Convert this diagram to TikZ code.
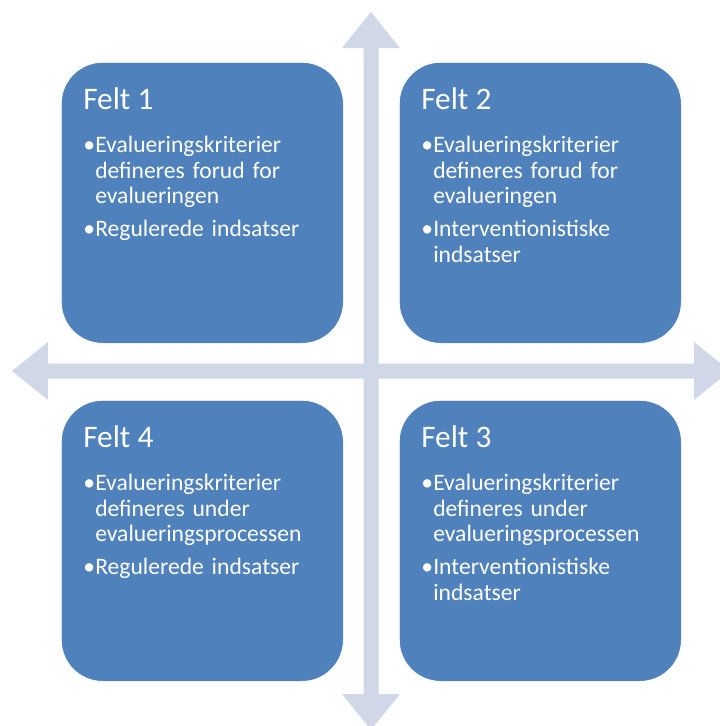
\documentclass[tikz,border=0pt]{standalone}
\usepackage{fontspec}
\setmainfont{Carlito}
\definecolor{feltblaa}{RGB}{79,129,189}
\definecolor{akse}{RGB}{208,216,232}
\newcommand\punkt[1]{\noindent\makebox[9pt][l]{\textbullet}\begin{tabular}[t]{@{}l@{}}#1\end{tabular}\par}
\begin{document}
\begin{tikzpicture}[x=0.75pt,y=-0.75pt]
  \tikzstyle{every node}=[inner sep=0pt,text=white]
  \tikzstyle{felt}=[draw=white,line width=0.5pt,fill=feltblaa,rounded corners=31pt,
    minimum width=211.5pt,minimum height=210.75pt,anchor=north west]
  \tikzstyle{titel}=[anchor=base west,font=\fontsize{23.5}{28}\selectfont]
  \tikzstyle{punkter}=[anchor=north west,align=left,text width=200pt,
    font=\fontsize{17.7}{19.3}\selectfont]
  \useasboundingbox (0,0) rectangle (720,726);
  % akserne
  \fill[akse] (12,371) -- (48,342) -- (48,363.5) -- (363.5,363.5) -- (363.5,48)
    -- (342,48) -- (371,12) -- (400,48) -- (378.5,48) -- (378.5,363.5)
    -- (694,363.5) -- (694,342) -- (730,371) -- (694,400) -- (694,378.5)
    -- (378.5,378.5) -- (378.5,694) -- (400,694) -- (371,730) -- (342,694)
    -- (363.5,694) -- (363.5,378.5) -- (48,378.5) -- (48,400) -- cycle;
  % felterne
  \draw (61,62) node[felt] (f1) {};
  \draw (399,62) node[felt] (f2) {};
  \draw (61,400) node[felt] (f4) {};
  \draw (399,400) node[felt] (f3) {};
  \draw (83,109) node[titel] (t1) {Felt 1};
  \draw (421,109) node[titel] (t2) {Felt 2};
  \draw (83,447) node[titel] (t4) {Felt 4};
  \draw (421,447) node[titel] (t3) {Felt 3};
  \draw (83,134) node[punkter] (p1) {\punkt{Evalueringskriterier\\defineres forud for\\evalueringen}\vspace{4.5pt}\punkt{Regulerede indsatser}};
  \draw (421,134) node[punkter] (p2) {\punkt{Evalueringskriterier\\defineres forud for\\evalueringen}\vspace{4.5pt}\punkt{Interventionistiske\\indsatser}};
  \draw (83,472) node[punkter] (p4) {\punkt{Evalueringskriterier\\defineres under\\evalueringsprocessen}\vspace{4.5pt}\punkt{Regulerede indsatser}};
  \draw (421,472) node[punkter] (p3) {\punkt{Evalueringskriterier\\defineres under\\evalueringsprocessen}\vspace{4.5pt}\punkt{Interventionistiske\\indsatser}};
\end{tikzpicture}
\end{document}
